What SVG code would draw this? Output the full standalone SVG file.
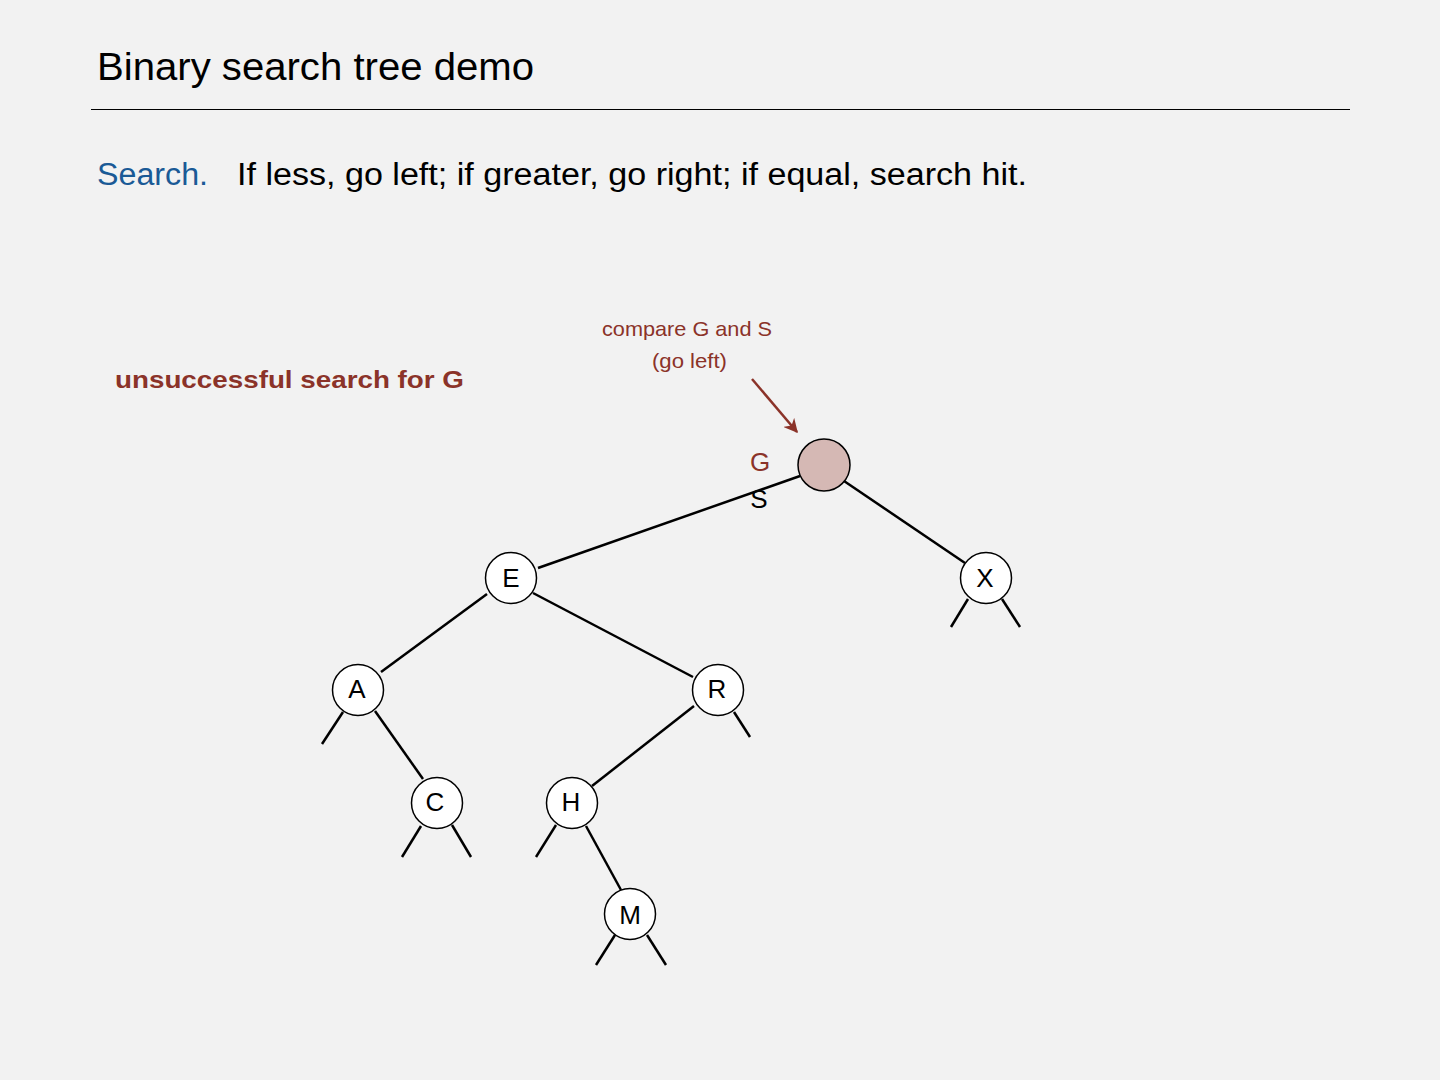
<svg xmlns="http://www.w3.org/2000/svg" width="1440" height="1080" viewBox="0 0 1440 1080">
<defs>
<marker id="ah" viewBox="0 0 10 10" refX="9" refY="5" markerWidth="14" markerHeight="14" orient="auto" markerUnits="userSpaceOnUse">
<path d="M0,0 L10,5 L0,10 L3,5 Z" fill="#8b3329"/>
</marker>
<style>
text{font-family:"Liberation Sans",Arial,sans-serif;}
.node circle{fill:#ffffff;stroke:#000;stroke-width:1.5;}
.node text{font-size:26px;fill:#000;text-anchor:middle;}
.edges line{stroke:#000;stroke-width:2.5;}
.edges line.arrow{stroke:#8b3329;stroke-width:2.5;}
.red{fill:#8b3329;}
</style>
</defs>
<rect width="1440" height="1080" fill="#f2f2f2"/>
<text x="97" y="80" font-size="38" fill="#000" textLength="437" lengthAdjust="spacingAndGlyphs">Binary search tree demo</text>
<line x1="91" y1="109.5" x2="1350" y2="109.5" stroke="#000" stroke-width="1"/>
<text x="97" y="185" font-size="31" fill="#1a5a96" textLength="111" lengthAdjust="spacingAndGlyphs">Search.</text>
<text x="237" y="185" font-size="31" fill="#000" textLength="790" lengthAdjust="spacingAndGlyphs">If less, go left; if greater, go right; if equal, search hit.</text>
<text x="115" y="388" font-size="24" font-weight="bold" class="red" textLength="349" lengthAdjust="spacingAndGlyphs">unsuccessful search for G</text>
<text x="602" y="336" font-size="21" class="red" textLength="170" lengthAdjust="spacingAndGlyphs">compare G and S</text>
<text x="652" y="368" font-size="21" class="red" textLength="75" lengthAdjust="spacingAndGlyphs">(go left)</text>
<g id="connectors" class="edges">
<line x1="538" y1="568" x2="800" y2="476"/>
<line x1="844" y1="481" x2="965" y2="563"/>
<line x1="968" y1="599" x2="951" y2="627"/>
<line x1="1002" y1="599" x2="1020" y2="627"/>
<line x1="487" y1="594" x2="381" y2="672"/>
<line x1="533" y1="593" x2="693" y2="677"/>
<line x1="343" y1="712" x2="322" y2="744"/>
<line x1="375" y1="711" x2="423" y2="779"/>
<line x1="421" y1="826" x2="402" y2="857"/>
<line x1="452" y1="825" x2="471" y2="857"/>
<line x1="694" y1="706" x2="592" y2="786"/>
<line x1="734" y1="712" x2="750" y2="737"/>
<line x1="556" y1="825" x2="536" y2="857"/>
<line x1="586" y1="826" x2="621" y2="890"/>
<line x1="615" y1="935" x2="596" y2="965"/>
<line x1="647" y1="935" x2="666" y2="965"/>
<line class="arrow" x1="752" y1="379" x2="797" y2="432" marker-end="url(#ah)"/>
</g>
<g id="node-S" class="node"><circle cx="824" cy="465" r="26" style="fill:#d5b8b4"/></g>
<g id="node-E" class="node"><circle cx="511" cy="578" r="25.5"/><text x="511" y="587">E</text></g>
<g id="node-X" class="node"><circle cx="986" cy="578" r="25.5"/><text x="985" y="587">X</text></g>
<g id="node-A" class="node"><circle cx="358" cy="690" r="25.5"/><text x="357" y="698">A</text></g>
<g id="node-R" class="node"><circle cx="718" cy="690" r="25.5"/><text x="717" y="698">R</text></g>
<g id="node-C" class="node"><circle cx="437" cy="803" r="25.5"/><text x="435" y="811">C</text></g>
<g id="node-H" class="node"><circle cx="572" cy="803" r="25.5"/><text x="571" y="811">H</text></g>
<g id="node-M" class="node"><circle cx="630" cy="914" r="25.5"/><text x="630" y="924">M</text></g>
<text x="760" y="471" font-size="26" class="red" text-anchor="middle">G</text>
<text x="759" y="508" font-size="26" fill="#000" text-anchor="middle">S</text>
</svg>
